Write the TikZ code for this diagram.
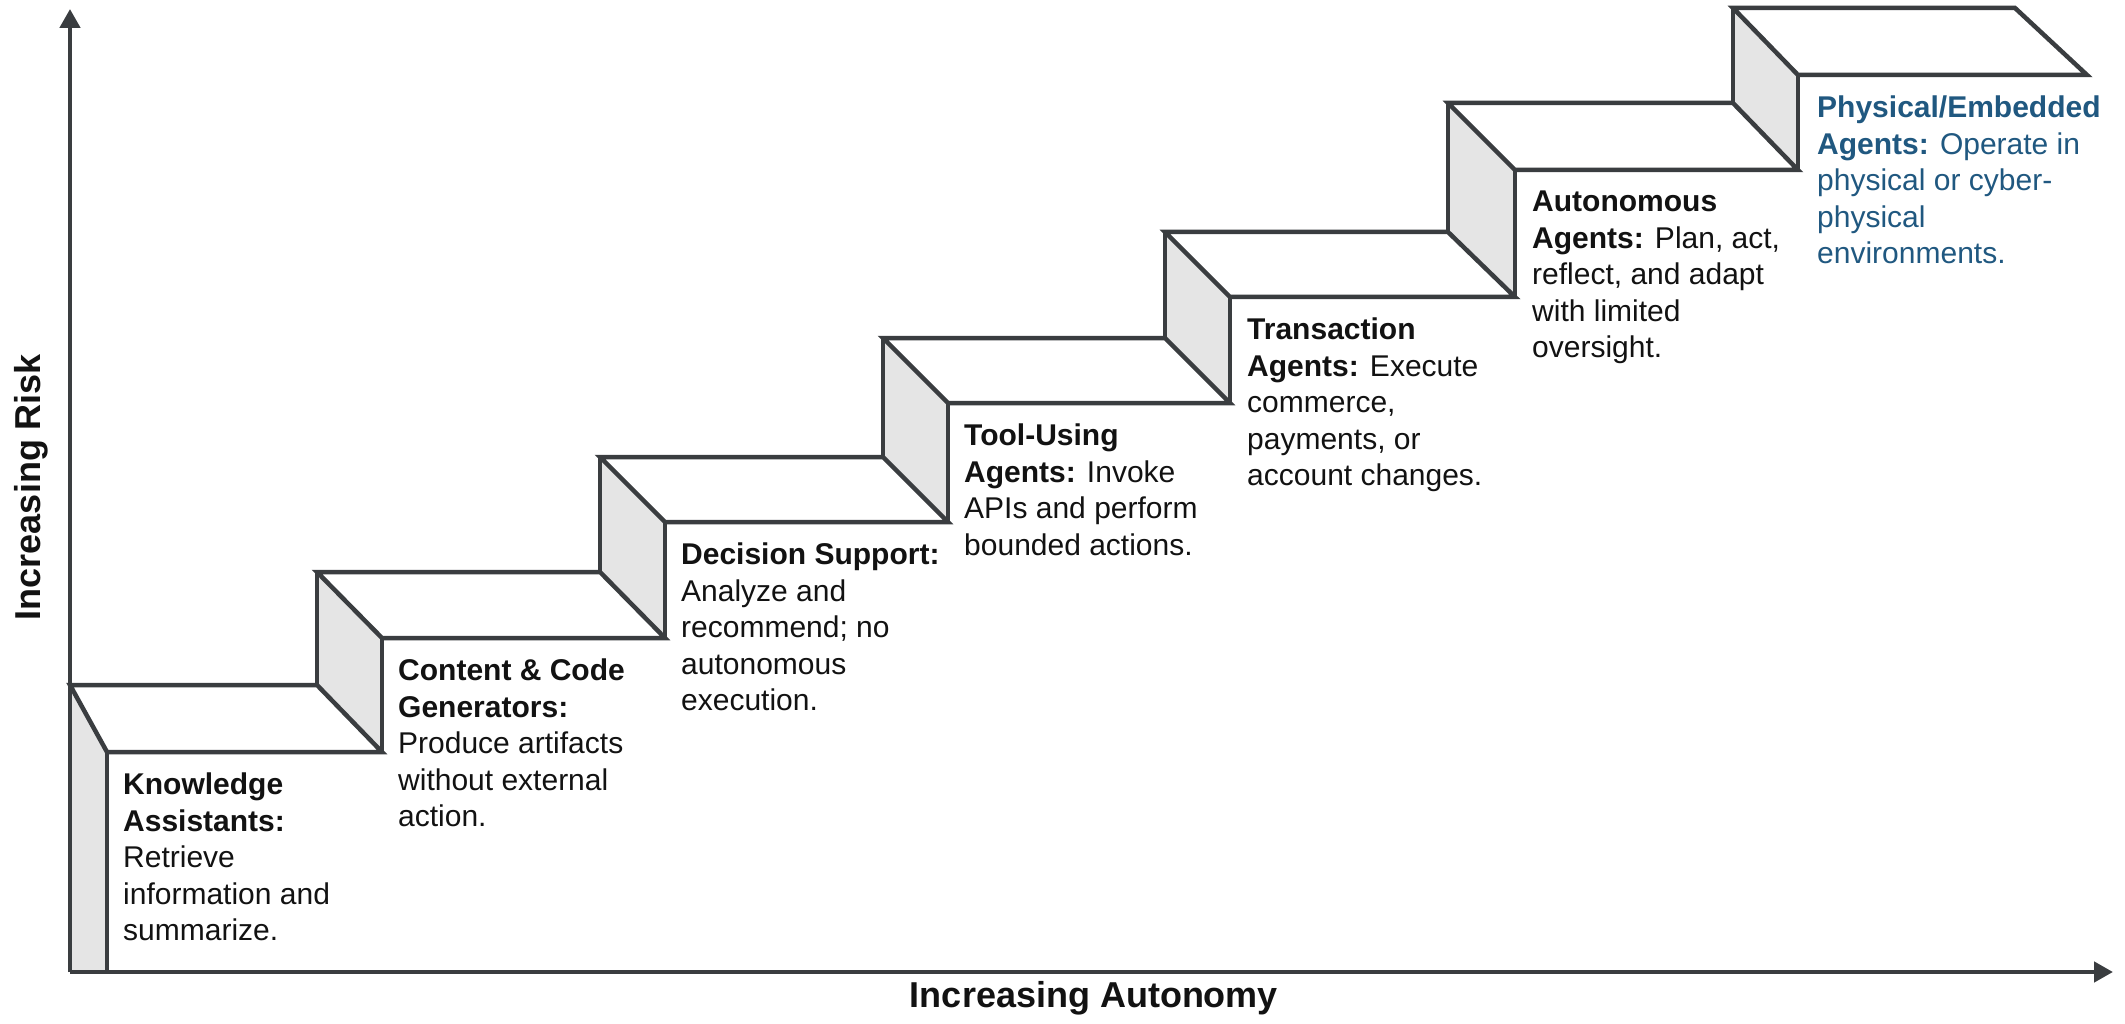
\documentclass[tikz,border=0pt]{standalone}
\usepackage{fontspec}
\setmainfont{Liberation Sans}
\usetikzlibrary{arrows.meta}
\definecolor{edge}{RGB}{58,61,64}
\definecolor{side}{RGB}{229,229,229}
\definecolor{txt}{RGB}{18,18,18}
\definecolor{blu}{RGB}{32,88,128}
\begin{document}
\begin{tikzpicture}[x=1pt,y=-1pt,
  stepline/.style={draw=edge, line width=4.5pt, line join=miter},
  sideface/.style={fill=side},
  axis/.style={draw=edge, line width=4.5pt, -{Triangle[length=19pt,width=20pt]}},
  desc/.style={anchor=north west, inner sep=0pt, align=left, font=\fontsize{30}{36.5}\selectfont, text=txt},
  axlabel/.style={inner sep=0pt, font=\fontsize{36}{40}\selectfont\bfseries, text=txt}]
\useasboundingbox (0,0) rectangle (2125,1024);
\fill[white] (0,0) rectangle (2125,1024);
% step corners
\coordinate (b1l) at (70,685);   \coordinate (b1r) at (317,685);  \coordinate (f1l) at (107,752);  \coordinate (f1r) at (382,752);
\coordinate (b2l) at (317,572);  \coordinate (b2r) at (600,572);  \coordinate (f2l) at (382,638);  \coordinate (f2r) at (665,638);
\coordinate (b3l) at (600,457);  \coordinate (b3r) at (883,457);  \coordinate (f3l) at (665,522);  \coordinate (f3r) at (948,522);
\coordinate (b4l) at (883,338);  \coordinate (b4r) at (1165,338); \coordinate (f4l) at (948,403);  \coordinate (f4r) at (1230,403);
\coordinate (b5l) at (1165,232); \coordinate (b5r) at (1448,232); \coordinate (f5l) at (1230,297); \coordinate (f5r) at (1515,297);
\coordinate (b6l) at (1448,103); \coordinate (b6r) at (1733,103); \coordinate (f6l) at (1515,170); \coordinate (f6r) at (1798,170);
\coordinate (b7l) at (1733,8);   \coordinate (b7r) at (2015,8);   \coordinate (f7l) at (1798,75);  \coordinate (f7r) at (2087,75);
\coordinate (s1a) at (107,972);  \coordinate (s1b) at (70,972);
% axes points
\coordinate (o) at (70,972);
\coordinate (ytip) at (70,9);
\coordinate (xtip) at (2113,972);
% side faces
\path[sideface] (b1l) -- (f1l) -- (s1a) -- (s1b) -- cycle;
\path[sideface] (b2l) -- (f2l) -- (f1r) -- (b1r) -- cycle;
\path[sideface] (b3l) -- (f3l) -- (f2r) -- (b2r) -- cycle;
\path[sideface] (b4l) -- (f4l) -- (f3r) -- (b3r) -- cycle;
\path[sideface] (b5l) -- (f5l) -- (f4r) -- (b4r) -- cycle;
\path[sideface] (b6l) -- (f6l) -- (f5r) -- (b5r) -- cycle;
\path[sideface] (b7l) -- (f7l) -- (f6r) -- (b6r) -- cycle;
% axes
\draw[axis] (o) -- (ytip);
\draw[axis] (o) -- (xtip);
% outlines
\draw[stepline] (b1l) -- (b1r) -- (f1r) -- (f1l) -- cycle;
\draw[stepline] (f1l) -- (s1a);
\draw[stepline] (b2l) -- (b2r) -- (f2r) -- (f2l) -- cycle;
\draw[stepline] (b3l) -- (b3r) -- (f3r) -- (f3l) -- cycle;
\draw[stepline] (b4l) -- (b4r) -- (f4r) -- (f4l) -- cycle;
\draw[stepline] (b5l) -- (b5r) -- (f5r) -- (f5l) -- cycle;
\draw[stepline] (b6l) -- (b6r) -- (f6r) -- (f6l) -- cycle;
\draw[stepline] (b7l) -- (b7r) -- (f7r) -- (f7l) -- cycle;
\draw[stepline] (b2l) -- (b1r);
\draw[stepline] (f2l) -- (f1r);
\draw[stepline] (b3l) -- (b2r);
\draw[stepline] (f3l) -- (f2r);
\draw[stepline] (b4l) -- (b3r);
\draw[stepline] (f4l) -- (f3r);
\draw[stepline] (b5l) -- (b4r);
\draw[stepline] (f5l) -- (f4r);
\draw[stepline] (b6l) -- (b5r);
\draw[stepline] (f6l) -- (f5r);
\draw[stepline] (b7l) -- (b6r);
\draw[stepline] (f7l) -- (f6r);
% texts
\node[desc] (t1) at (123,773) {\textbf{Knowledge}\\\textbf{Assistants:}\\Retrieve\\information and\\summarize.};
\node[desc] (t2) at (398,659) {\textbf{Content \& Code}\\\textbf{Generators:}\\Produce artifacts\\without external\\action.};
\node[desc] (t3) at (681,543) {\textbf{Decision Support:}\\Analyze and\\recommend; no\\autonomous\\execution.};
\node[desc] (t4) at (964,424) {\textbf{Tool-Using}\\\textbf{Agents:} Invoke\\APIs and perform\\bounded actions.};
\node[desc] (t5) at (1247,318) {\textbf{Transaction}\\\textbf{Agents:} Execute\\commerce,\\payments, or\\account changes.};
\node[desc] (t6) at (1532,191) {\textbf{Autonomous}\\\textbf{Agents:} Plan, act,\\reflect, and adapt\\with limited\\oversight.};
\node[desc, text=blu] (t7) at (1817,96) {\textbf{Physical/Embedded}\\\textbf{Agents:} Operate in\\physical or cyber-\\physical\\environments.};
% axis labels
\node[axlabel, rotate=90] (ylab) at (31,487) {Increasing Risk};
\node[axlabel] (xlab) at (1094,998) {Increasing Autonomy};
\end{tikzpicture}
\end{document}
